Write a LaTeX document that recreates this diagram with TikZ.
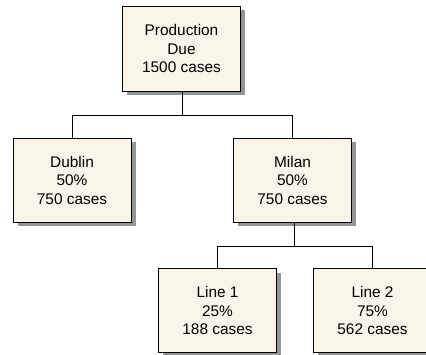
\documentclass[tikz,border=0pt]{standalone}
\usepackage{fontspec}
\setmainfont{Liberation Sans}
\usepackage{tikz}
\usetikzlibrary{shadows}
\definecolor{boxcream}{HTML}{F8F4EA}
\tikzstyle{site} = [rectangle, minimum width=118pt, minimum height=84pt, inner sep=0pt, align=center, draw=black, line width=0.9pt, fill=boxcream, font=\fontsize{15.4}{18.5}\selectfont, drop shadow={shadow xshift=4.5pt, shadow yshift=-4.5pt, fill=black!42, opacity=1}]
\tikzstyle{link} = [line width=0.7pt]

\begin{document}
\begin{tikzpicture}[x=1pt, y=-1pt]
        \useasboundingbox (0,0) rectangle (426,355);

        \node (due) [site, minimum height=85pt] at (181.5,48.5) {Production\\Due\\1500 cases};

        \node (dublin) [site] at (72,180) {Dublin\\50\%\\750 cases};
        \node (milan) [site] at (292.5,180) {Milan\\50\%\\750 cases};

        \node (line1) [site] at (217.5,310.5) {Line 1\\25\%\\188 cases};
        \node (line2) [site] at (372.5,310.5) {Line 2\\75\%\\562 cases};

        \coordinate (split1) at (182.5,115.7);
        \coordinate (split2) at (294.5,246);

        \draw [link] (due.south -| split1) -- (split1) -| (dublin.north);
        \draw [link] (split1) -| (milan.north);
        \draw [link] (milan.south -| split2) -- (split2) -| (line2.north);
        \draw [link] (split2) -| (line1.north);
    \end{tikzpicture}
\end{document}
